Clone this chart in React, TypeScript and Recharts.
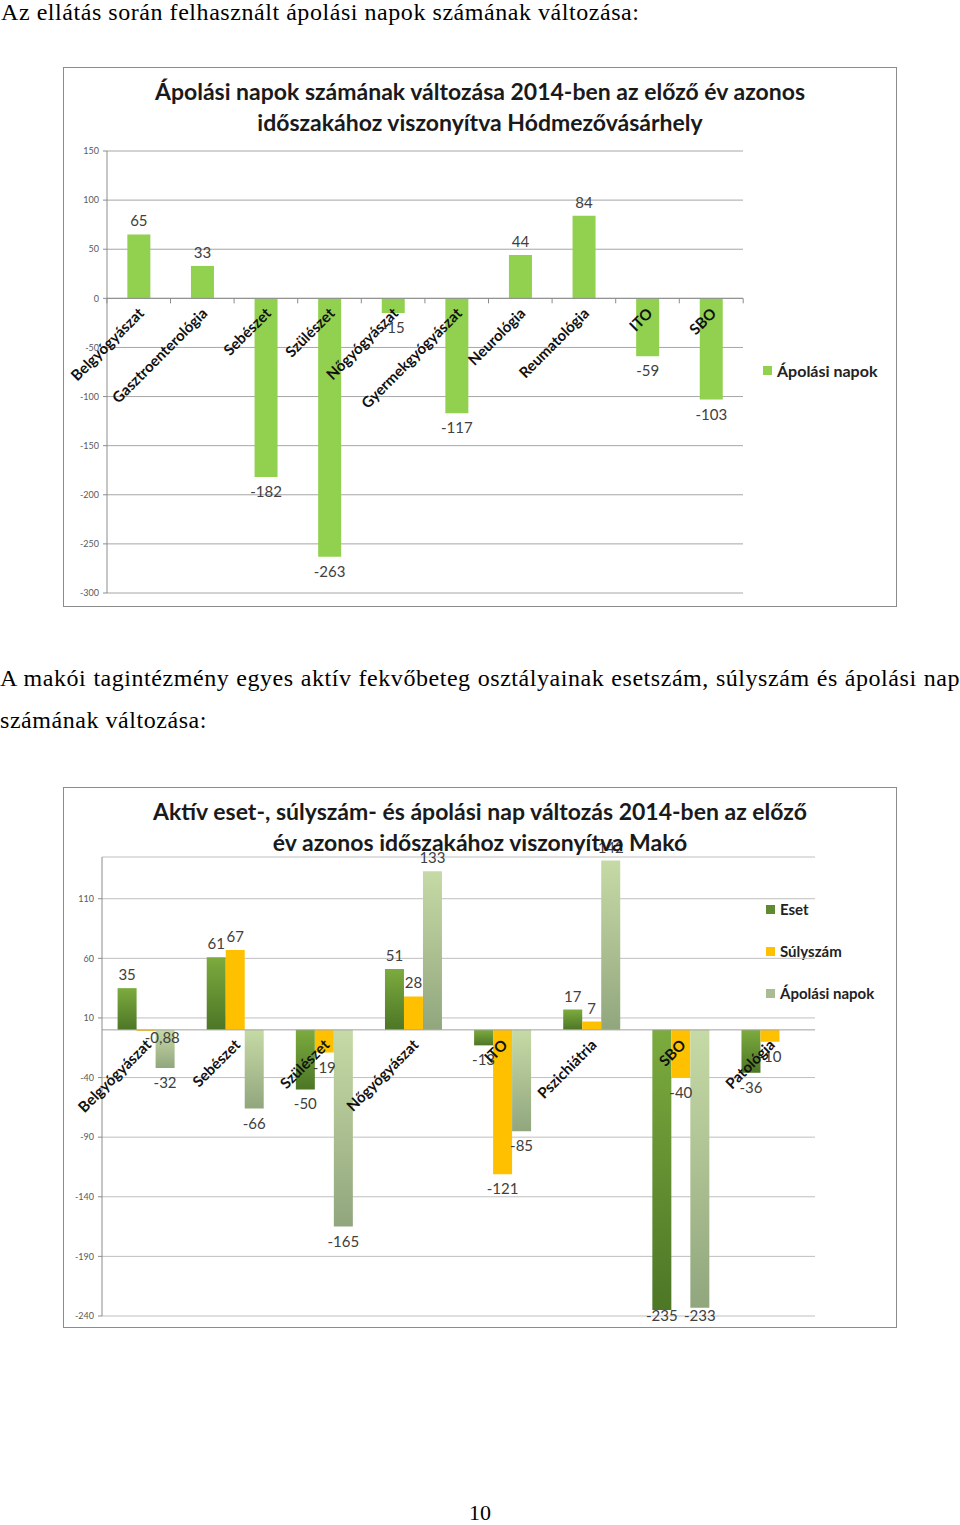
import {
  BarChart,
  Bar,
  XAxis,
  YAxis,
  CartesianGrid,
  ReferenceLine,
  LabelList,
} from "recharts";

/* ---------- Hódmezővásárhely ---------- */
const hmvCategories = [
  "Belgyógyászat",
  "Gasztroenterológia",
  "Sebészet",
  "Szülészet",
  "Nőgyógyászat",
  "Gyermekgyógyászat",
  "Neurológia",
  "Reumatológia",
  "ITO",
  "SBO",
];
const hmvApolasiNapok = [65, 33, -182, -263, -15, -117, 44, 84, -59, -103];
const hmvTicks = [150, 100, 50, 0, -50, -100, -150, -200, -250, -300];

/* ---------- Makó ---------- */
const makoCategories = [
  "Belgyógyászat",
  "Sebészet",
  "Szülészet",
  "Nőgyógyászat",
  "ITO",
  "Pszichiátria",
  "SBO",
  "Patológia",
];
const makoEset = [35, 61, -50, 51, -13, 17, -235, -36];
const makoSulyszam = [-0.88, 67, -19, 28, -121, 7, -40, -10];
const makoApolasi: (number | null)[] = [-32, -66, -165, 133, -85, 142, -233, null];
const makoTicks = [110, 60, 10, -40, -90, -140, -190, -240];

const FONT = "Lato, 'Open Sans', sans-serif";
const SERIF = "'Liberation Serif', 'Times New Roman', serif";

const hmvData = hmvCategories.map((name, i) => ({
  name,
  apolasi: hmvApolasiNapok[i],
}));

const makoData = makoCategories.map((name, i) => ({
  name,
  eset: makoEset[i],
  sulyszam: makoSulyszam[i],
  apolasi: makoApolasi[i],
}));

const fmt = (v: number) => String(v).replace(".", ",");

function box(p: any) {
  const vb = p.viewBox && p.viewBox.width != null ? p.viewBox : p;
  return { x: vb.x, y: vb.y, width: vb.width, height: vb.height };
}

// value label: above positive bars, below negative bars (kept inside the plot bottom)
function valueLabel(maxY: number) {
  return (props: any) => {
    const { value } = props;
    if (value == null) return null;
    const { x, y, width, height } = box(props);
    const top = Math.min(y, y + height);
    const bottom = Math.max(y, y + height);
    let cx = x + width / 2;
    let ty = value >= 0 ? top - 8 : bottom + 20;
    if (Math.abs(height) < 3 && value < 0) {
      // tiny bar: Excel pushes the label to the side
      cx = x + width * 1.35;
      ty = bottom + 12;
    }
    ty = Math.min(ty, maxY);
    return (
      <text
        x={cx}
        y={ty}
        textAnchor="middle"
        fontSize={15}
        fill="#404040"
        fontFamily={FONT}
      >
        {fmt(value)}
      </text>
    );
  };
}

// category name drawn at the zero line, rotated like Excel does
function categoryLabel(values: (number | null)[], gap: number, withTicks: boolean) {
  return (props: any) => {
    const { value, index } = props;
    const v = values[index] ?? 0;
    const { x, y, width, height } = box(props);
    const zero = v >= 0 ? Math.max(y, y + height) : Math.min(y, y + height);
    const cx = x + width / 2;
    const band = width / (1 - 2 * gap);
    const tx = cx + 6;
    const ty = zero + 16;
    return (
      <g>
        {withTicks && (
          <line x1={cx - band / 2} x2={cx - band / 2} y1={zero} y2={zero + 5} stroke="#8c8c8c" />
        )}
        {withTicks && index === values.length - 1 && (
          <line x1={cx + band / 2} x2={cx + band / 2} y1={zero} y2={zero + 5} stroke="#8c8c8c" />
        )}
        <text
          x={tx}
          y={ty}
          textAnchor="end"
          fontSize={15}
          fontWeight="bold"
          fill="#111"
          fontFamily={FONT}
          transform={`rotate(-45 ${tx} ${ty})`}
        >
          {value}
        </text>
      </g>
    );
  };
}

const frame: React.CSSProperties = {
  position: "absolute",
  border: "1px solid #8c8c8c",
  boxSizing: "border-box",
  background: "#fff",
};

const titleStyle: React.CSSProperties = {
  position: "absolute",
  width: "100%",
  textAlign: "center",
  fontFamily: FONT,
  fontWeight: "bold",
  fontSize: 23,
  color: "#1a1a1a",
  zIndex: 2,
  pointerEvents: "none",
};

function LegendItem({ color, label, top, left, size }: any) {
  return (
    <div
      style={{
        position: "absolute",
        left,
        top,
        display: "flex",
        alignItems: "center",
        fontFamily: FONT,
        fontWeight: "bold",
        fontSize: size,
        color: "#222",
        whiteSpace: "nowrap",
      }}
    >
      <span style={{ width: 9, height: 9, background: color, marginRight: 5, display: "inline-block" }} />
      {label}
    </div>
  );
}

export default function App() {
  return (
    <div
      style={{
        position: "absolute",
        left: 0,
        top: 0,
        width: 960,
        height: 1525,
        background: "#fff",
        fontFamily: SERIF,
        color: "#000",
      }}
    >
      <div
        style={{
          position: "absolute",
          left: 1,
          top: 0,
          fontSize: 24,
          lineHeight: "24px",
          letterSpacing: 0.55,
          whiteSpace: "nowrap",
        }}
      >
        Az ellátás során felhasznált ápolási napok számának változása:
      </div>

      {/* Chart 1 */}
      <div style={{ ...frame, left: 63, top: 67, width: 834, height: 540 }}>
        <LegendItem color="#92d050" label="Ápolási napok" left={699} top={293} size={16} />
      </div>
      <div style={{ position: "absolute", left: 64, top: 68 }}>
        <BarChart
          width={831}
          height={537}
          data={hmvData}
          margin={{ top: 83, right: 152, bottom: 12, left: 0 }}
          barCategoryGap="32%"
        >
          <CartesianGrid vertical={false} stroke="#a6a6a6" />
          <XAxis dataKey="name" hide />
          <YAxis
            type="number"
            domain={[-300, 150]}
            ticks={hmvTicks}
            width={43}
            interval={0}
            tick={{ fontSize: 9, fill: "#595959", fontFamily: FONT }}
            tickSize={4}
            tickMargin={4}
            axisLine={{ stroke: "#8c8c8c" }}
            tickLine={{ stroke: "#8c8c8c" }}
          />
          <ReferenceLine y={0} stroke="#8c8c8c" />
          <Bar dataKey="apolasi" fill="#92d050" isAnimationActive={false}>
            <LabelList dataKey="apolasi" content={valueLabel(530)} />
            <LabelList dataKey="name" content={categoryLabel(hmvApolasiNapok, 0.32, true)} />
          </Bar>
        </BarChart>
      </div>
      <div style={{ ...titleStyle, left: 63, width: 834, top: 76, lineHeight: "31px" }}>
        Ápolási napok számának változása 2014-ben az előző év azonos
        <br />
        időszakához viszonyítva Hódmezővásárhely
      </div>

      <div
        style={{
          position: "absolute",
          left: 0,
          top: 657,
          width: 960,
          fontSize: 24,
          lineHeight: "42px",
          letterSpacing: 0.55,
        }}
      >
        <div style={{ textAlign: "justify", textAlignLast: "justify", whiteSpace: "nowrap" }}>
          A makói tagintézmény egyes aktív fekvőbeteg osztályainak esetszám, súlyszám és ápolási nap
        </div>
        <div>számának változása:</div>
      </div>

      {/* Chart 2 */}
      <div style={{ ...frame, left: 63, top: 787, width: 834, height: 541 }}>
        <LegendItem color="#5f8a30" label="Eset" left={702} top={112} size={15} />
        <LegendItem color="#ffc000" label="Súlyszám" left={702} top={154} size={15} />
        <LegendItem color="#a9bc92" label="Ápolási napok" left={702} top={196} size={15} />
      </div>
      <div style={{ position: "absolute", left: 64, top: 788 }}>
        <BarChart
          width={831}
          height={538}
          data={makoData}
          margin={{ top: 69, right: 80, bottom: 10, left: 0 }}
          barCategoryGap="17.5%"
          barGap={0}
        >
          <defs>
            <linearGradient id="esetGrad" x1="0" y1="0" x2="0" y2="1">
              <stop offset="0%" stopColor="#7cab3e" />
              <stop offset="100%" stopColor="#4d7626" />
            </linearGradient>
            <linearGradient id="apolGrad" x1="0" y1="0" x2="0" y2="1">
              <stop offset="0%" stopColor="#c6daa6" />
              <stop offset="100%" stopColor="#92a67e" />
            </linearGradient>
          </defs>
          <CartesianGrid vertical={false} stroke="#bfbfbf" />
          <XAxis dataKey="name" hide />
          <YAxis
            type="number"
            domain={[-240, 145]}
            ticks={makoTicks}
            width={38}
            interval={0}
            tick={{ fontSize: 9, fill: "#595959", fontFamily: FONT }}
            tickSize={4}
            tickMargin={4}
            axisLine={{ stroke: "#8c8c8c" }}
            tickLine={{ stroke: "#8c8c8c" }}
          />
          <ReferenceLine y={0} stroke="#a0a0a0" />
          <Bar dataKey="eset" fill="url(#esetGrad)" isAnimationActive={false}>
            <LabelList dataKey="eset" content={valueLabel(533)} />
          </Bar>
          <Bar dataKey="sulyszam" fill="#ffc000" isAnimationActive={false}>
            <LabelList dataKey="sulyszam" content={valueLabel(533)} />
            <LabelList dataKey="name" content={categoryLabel(makoSulyszam, 0.175, false)} />
          </Bar>
          <Bar dataKey="apolasi" fill="url(#apolGrad)" isAnimationActive={false}>
            <LabelList dataKey="apolasi" content={valueLabel(533)} />
          </Bar>
        </BarChart>
      </div>
      <div style={{ ...titleStyle, left: 63, width: 834, top: 796, lineHeight: "31px" }}>
        Aktív eset-, súlyszám- és ápolási nap változás 2014-ben az előző
        <br />
        év azonos időszakához viszonyítva Makó
      </div>

      <div
        style={{
          position: "absolute",
          left: 0,
          width: 960,
          top: 1500,
          textAlign: "center",
          fontSize: 22,
          lineHeight: "26px",
        }}
      >
        10
      </div>
    </div>
  );
}
